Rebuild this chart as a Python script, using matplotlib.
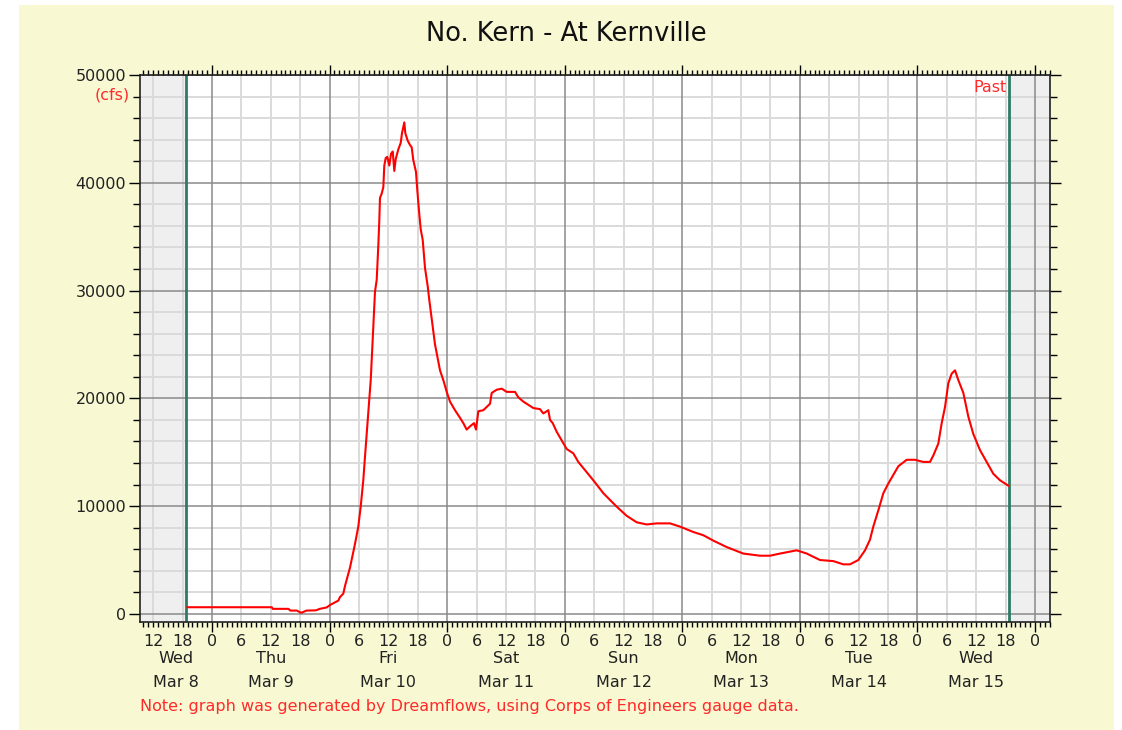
import numpy as np
import matplotlib
matplotlib.use('Agg')
import matplotlib.pyplot as plt
from matplotlib.patches import Rectangle
from matplotlib.ticker import FixedLocator, FuncFormatter, NullFormatter

# Поток, часы от 00:00 8 марта
hours = [19.0, 36.2, 36.4, 39.6, 40.0, 41.3, 42.2, 43.3, 45.2, 46.0, 47.4, 48.1,
         49.8, 50.1, 50.8, 51.15, 52.17, 53.19, 53.86, 54.35, 54.88, 55.23, 55.70,
         56.11, 56.40, 57.27, 57.62, 57.95, 58.15, 58.29, 58.64, 58.97, 59.17,
         59.46, 59.78, 60.19, 60.54, 60.89, 61.21, 61.50, 62.03, 62.52, 62.78,
         63.25, 63.46, 63.95, 64.42, 64.76, 65.09, 65.64, 65.91, 66.25, 66.60,
         67.01, 67.48, 68.03, 68.36, 69.52, 70.54, 71.21, 71.91, 72.58, 73.60,
         74.62, 75.30, 75.99, 76.66, 77.48, 77.89, 78.36, 79.38, 80.07, 80.75,
         81.09, 82.12, 83.14, 84.16, 85.18, 85.85, 86.52, 87.54, 88.57, 89.59,
         90.95, 91.63, 92.65, 93.00, 93.55, 94.36, 95.38, 96.40, 97.75, 98.77,
         101.83, 103.88, 106.61, 108.65, 110.69, 112.73, 114.78, 117.49, 119.53,
         122.25, 124.29, 126.33, 129.07, 132.45, 135.86, 137.90, 139.95, 143.35,
         145.40, 148.11, 150.83, 152.87, 154.24, 155.93, 157.30, 158.32, 158.99,
         160.01, 161.04, 162.06, 163.08, 164.10, 165.81, 167.50, 169.20, 170.57,
         171.24, 172.26, 172.95, 173.63, 174.30, 175.00, 175.67, 176.34, 177.37,
         178.39, 179.40, 180.77, 182.14, 183.49, 184.85, 186.55]
cfs = [620, 620, 470, 470, 310, 310, 100, 310, 330, 470, 600, 830,
       1240, 1550, 1880, 2600, 4300, 6500, 8100, 9950, 12400, 14600, 17400,
       19800, 21700, 29900, 31000, 34200, 36500, 38600, 39000, 39600, 41600,
       42300, 42400, 41600, 42700, 42900, 41100, 42200, 43100, 43700, 44600,
       45600, 44600, 43900, 43500, 43300, 42100, 41000, 39300, 37400, 35700,
       34700, 32100, 30400, 29100, 25000, 22600, 21700, 20600, 19700, 18900,
       18200, 17700, 17100, 17400, 17700, 17100, 18800, 18900, 19200, 19500,
       20500, 20800, 20900, 20600, 20600, 20600, 20100, 19700, 19400, 19100,
       19000, 18600, 18900, 18000, 17700, 16900, 16100, 15300, 14900, 14100,
       12400, 11200, 9950, 9100, 8500, 8300, 8400, 8400, 8100,
       7600, 7300, 6800, 6200, 5600, 5400, 5400, 5600, 5900,
       5600, 5000, 4900, 4600, 4600, 5000, 5900, 6900, 8100,
       9600, 11200, 12100, 12900, 13700, 14300, 14300, 14100, 14100,
       14700, 15800, 17700, 19200, 21400, 22300, 22600, 21700, 20500,
       18300, 16700, 15200, 14100, 13000, 12400, 11900]

day_names = ['Wed', 'Thu', 'Fri', 'Sat', 'Sun', 'Mon', 'Tue', 'Wed']
day_dates = ['Mar 8', 'Mar 9', 'Mar 10', 'Mar 11', 'Mar 12', 'Mar 13', 'Mar 14', 'Mar 15']

t_start, t_end = 9.3, 195.06      # границы оси X, ч
past_from, past_to = 18.75, 186.75  # интервал данных

fig = plt.figure(figsize=(11.22, 7.30), dpi=100, facecolor='white')
fig.patches.append(Rectangle((19 / 1122, 0), 1095 / 1122, 725 / 730,
                             transform=fig.transFigure, facecolor='#f8f8d3',
                             edgecolor='none', zorder=-10))
ax = fig.add_axes([140 / 1122, 1 - 622 / 730, 910 / 1122, 547 / 730])
ax.set_facecolor('white')
ax.set_xlim(t_start, t_end)
ax.set_ylim(-750, 50000)

# серые области вне интервала данных
ax.axvspan(t_start, past_from, color='#efefef', zorder=0, lw=0)
ax.axvspan(past_to, t_end, color='#efefef', zorder=0, lw=0)

# сетка
for h in np.arange(0, 200, 6):
    if h % 24 == 0:
        ax.axvline(h, color='#8a8a8a', lw=1.1, zorder=1)
    else:
        ax.axvline(h, color='#dadada', lw=1.4, zorder=0.5)
for v in np.arange(0, 50001, 2000):
    if v % 10000 == 0:
        ax.axhline(v, color='#8a8a8a', lw=1.1, zorder=1)
    else:
        ax.axhline(v, color='#dadada', lw=1.4, zorder=0.5)

ax.axvline(past_from, color='#2f7a66', lw=2.0, zorder=2)
ax.axvline(past_to, color='#2f7a66', lw=2.0, zorder=2)

ax.plot(hours, cfs, color='#ff0000', lw=1.5, zorder=3)

# оси
ax.xaxis.set_major_locator(FixedLocator(np.arange(24, 200, 24)))
ax.xaxis.set_major_formatter(FuncFormatter(lambda x, p: '0'))
ax.xaxis.set_minor_locator(FixedLocator([h for h in range(10, 196) if h % 24 != 0]))
ax.xaxis.set_minor_formatter(FuncFormatter(
    lambda x, p: str(int(round(x)) % 24) if int(round(x)) % 6 == 0 else ''))
ax.tick_params(axis='x', which='major', direction='out', length=7, width=1,
               pad=2, top=True, labelsize=11.5, labelcolor='#222222')
ax.tick_params(axis='x', which='minor', direction='out', length=3.5, width=1,
               pad=5.5, top=True, labelsize=11.5, labelcolor='#222222')

ax.yaxis.set_major_locator(FixedLocator(np.arange(0, 50001, 10000)))
ax.yaxis.set_minor_locator(FixedLocator(np.arange(0, 50001, 2000)))
ax.yaxis.set_minor_formatter(NullFormatter())
ax.tick_params(axis='y', which='major', direction='out', length=8, width=1,
               right=True, labelsize=11.5, labelcolor='#222222', pad=2)
ax.tick_params(axis='y', which='minor', direction='out', length=5, width=1,
               right=True)
for s in ax.spines.values():
    s.set_color('#222222')
    s.set_linewidth(1.2)
    s.set_zorder(4)

# подписи дней
tr = ax.get_xaxis_transform()
for i, (nm, dt) in enumerate(zip(day_names, day_dates)):
    xc = (t_start + 24) / 2 if i == 0 else 24 * i + 12
    ax.text(xc, -0.0676, nm, transform=tr, ha='center', va='center',
            fontsize=11.5, color='#222222')
    ax.text(xc, -0.1115, dt, transform=tr, ha='center', va='center',
            fontsize=11.5, color='#222222')

ax.text(-0.011, 0.963, '(cfs)', transform=ax.transAxes, ha='right', va='center',
        fontsize=11.5, color='#ff2a2a')
ax.text(past_to - 0.6, 0.978, 'Past', transform=tr, ha='right', va='center',
        fontsize=11.5, color='#ff2a2a')

fig.text(0.505, 1 - 34 / 730, 'No. Kern - At Kernville', ha='center', va='center',
         fontsize=18.5, color='#111111')
fig.text(140 / 1122, 1 - 706 / 730,
         'Note: graph was generated by Dreamflows, using Corps of Engineers gauge data.',
         ha='left', va='center', fontsize=11.5, color='#ff2a2a')

fig.savefig('out.png', dpi=100, facecolor=fig.get_facecolor())
